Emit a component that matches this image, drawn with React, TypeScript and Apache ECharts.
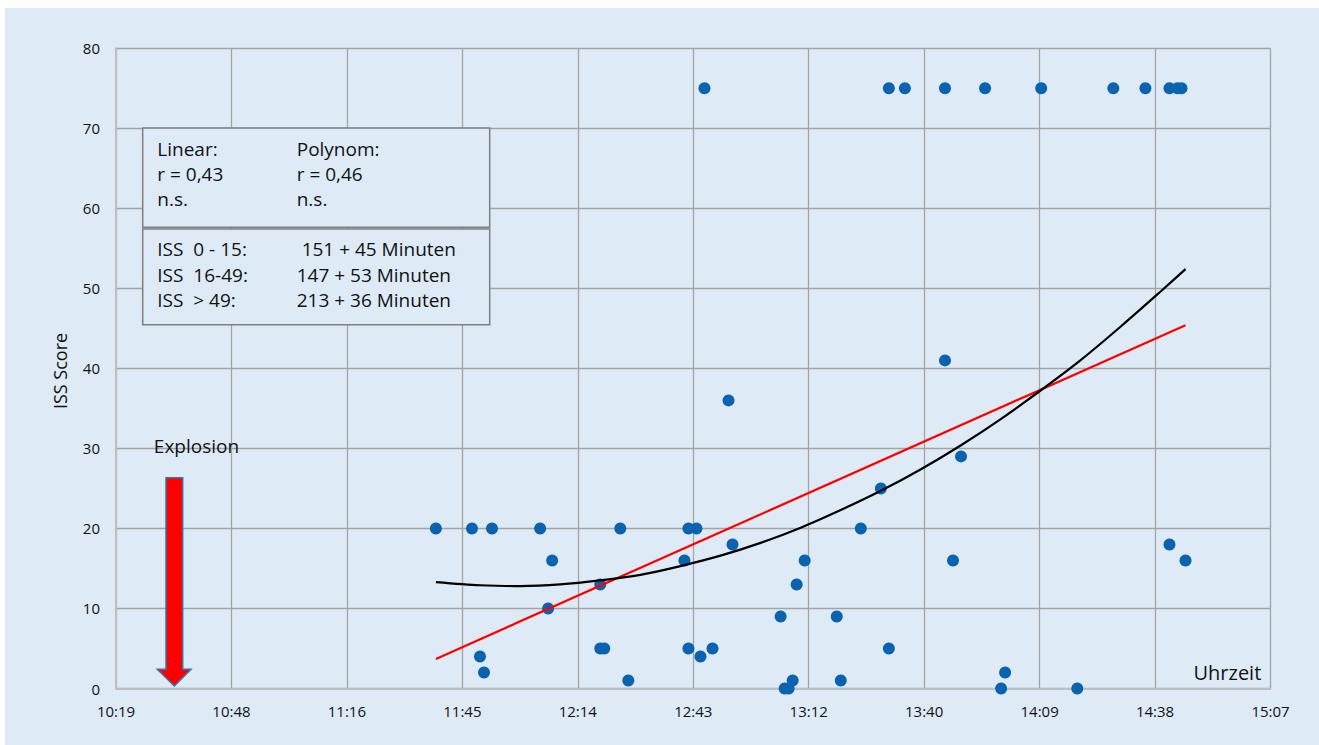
import React, { useEffect, useRef } from "react";
import * as echarts from "echarts";

// ---- Data ----
// Scatter: time of arrival (HH:MM) and ISS score
const scatterTimes: string[] = [
  "11:39", "11:48", "11:50", "11:51", "11:53", "12:05", "12:07", "12:08", "12:20", "12:20",
  "12:21", "12:25", "12:27", "12:41", "12:42", "12:42", "12:44", "12:45", "12:46", "12:48",
  "12:52", "12:53", "13:05", "13:06", "13:07", "13:08", "13:09", "13:11", "13:19", "13:20",
  "13:25", "13:30", "13:32", "13:32", "13:36", "13:46", "13:46", "13:48", "13:50", "13:56",
  "14:00", "14:01", "14:10", "14:19", "14:28", "14:36", "14:42", "14:42", "14:44", "14:45",
  "14:46",
];
const scatterScores: number[] = [
  20, 20, 4, 2, 20, 20, 10, 16, 13, 5,
  5, 20, 1, 16, 20, 5, 20, 4, 75, 5,
  36, 18, 9, 0, 0, 1, 13, 16, 9, 1,
  20, 25, 5, 75, 75, 41, 75, 16, 29, 75,
  0, 2, 75, 0, 75, 75, 75, 18, 75, 75,
  16,
];

// Linear trend line (red), as drawn in the reference
const linearTimes: string[] = ["11:39", "14:46"];
const linearValues: number[] = [3.7, 45.4];

// Polynomial trend line (black)
const polyTimes: string[] = [
  "11:39", "11:50", "12:00", "12:10", "12:20", "12:30", "12:40", "12:50", "13:00", "13:10",
  "13:20", "13:30", "13:40", "13:50", "14:00", "14:10", "14:20", "14:30", "14:40", "14:46",
];
const polyValues: number[] = [
  13.3, 12.9, 12.8, 13.0, 13.5, 14.2, 15.3, 16.6, 18.2, 20.1,
  22.3, 24.7, 27.4, 30.4, 33.7, 37.3, 41.1, 45.3, 49.7, 52.4,
];

// Axis: 10:19 (0.43 d) to 15:07 (0.63 d), step 28.8 min (0.02 d)
const AXIS_START_MIN = 619.2;
const AXIS_SPAN_MIN = 288;
const AXIS_STEP_MIN = 28.8;
const yMin = 0;
const yMax = 80;
const yStep = 10;

const legendLeft: string[] = ["Linear:", "r = 0,43", "n.s."];
const legendRight: string[] = ["Polynom:", "r = 0,46", "n.s."];
const issLeft: string[] = ["ISS  0 - 15:", "ISS  16-49:", "ISS  > 49:"];
const issRight: string[] = [" 151 + 45 Minuten", "147 + 53 Minuten", "213 + 36 Minuten"];

const FONT = '"Open Sans", sans-serif';
const TEXT = "#111111";
const BG = "#deebf7";

function toX(t: string): number {
  const [h, m] = t.split(":").map(Number);
  return h * 60 + m - AXIS_START_MIN;
}

function fmtTime(v: number): string {
  const total = Math.floor(v + AXIS_START_MIN + 1e-6);
  const h = Math.floor(total / 60);
  const m = total % 60;
  return `${h}:${m < 10 ? "0" + m : m}`;
}

export default function App() {
  const ref = useRef<HTMLDivElement>(null);

  useEffect(() => {
    if (!ref.current) return;
    const chart = echarts.init(ref.current, undefined, { renderer: "svg" });

    const textStyle = (text: string, x: number, y: number, size: number, extra: any = {}) => ({
      type: "text",
      x,
      y,
      z: 100,
      ...extra,
      style: {
        text,
        fontSize: size,
        fontFamily: FONT,
        fill: TEXT,
        align: "left",
        verticalAlign: "middle",
        ...(extra.style || {}),
      },
    });

    const graphics: any[] = [
      {
        type: "rect",
        z: 99,
        shape: { x: 137.7, y: 120, width: 347, height: 99.3 },
        style: { fill: BG, stroke: "#7f7f7f", lineWidth: 1.5 },
      },
      {
        type: "rect",
        z: 99,
        shape: { x: 137.7, y: 221, width: 347, height: 95.7 },
        style: { fill: BG, stroke: "#7f7f7f", lineWidth: 1.5 },
      },
    ];
    legendLeft.forEach((t, i) => graphics.push(textStyle(t, 152.3, 141.3 + i * 25, 19)));
    legendRight.forEach((t, i) => graphics.push(textStyle(t, 291.7, 141.3 + i * 25, 19)));
    issLeft.forEach((t, i) => graphics.push(textStyle(t, 152.3, 241.3 + i * 25.3, 19)));
    issRight.forEach((t, i) => graphics.push(textStyle(t, 291.7, 241.3 + i * 25.3, 19)));
    graphics.push(textStyle("Explosion", 191.5, 438, 19, { style: { align: "center" } }));
    graphics.push(textStyle("Uhrzeit", 1256.3, 664.5, 20, { style: { align: "right" } }));
    graphics.push(
      textStyle("ISS Score", 55, 363, 18, { rotation: Math.PI / 2, style: { align: "center" } })
    );
    graphics.push({
      type: "polygon",
      z: 100,
      shape: {
        points: [
          [161, 469.7],
          [177.7, 469.7],
          [177.7, 661.3],
          [186, 661.3],
          [169.3, 678],
          [152.3, 661.3],
          [161, 661.3],
        ],
      },
      style: { fill: "#ff0000", stroke: "#2e75b6", lineWidth: 1.5 },
    });

    const axisLine = { show: true, lineStyle: { color: "#bfbfbf", width: 2 } };
    const splitLine = { show: true, lineStyle: { color: "#a3a3a3", width: 1.3 } };
    const labelBase = { color: TEXT, fontSize: 15, fontFamily: FONT };

    chart.setOption({
      animation: false,
      backgroundColor: BG,
      grid: { left: 111, right: 48.5, top: 40.3, bottom: 56.5, containLabel: false },
      xAxis: {
        type: "value",
        min: 0,
        max: AXIS_SPAN_MIN,
        interval: AXIS_STEP_MIN,
        axisLine,
        axisTick: { show: false },
        splitLine,
        axisLabel: {
          ...labelBase,
          margin: 15,
          showMinLabel: true,
          showMaxLabel: true,
          formatter: (v: number) => fmtTime(v),
        },
      },
      yAxis: {
        type: "value",
        min: yMin,
        max: yMax,
        interval: yStep,
        axisLine,
        axisTick: { show: false },
        splitLine,
        axisLabel: { ...labelBase, margin: 16 },
      },
      series: [
        {
          type: "scatter",
          symbol: "circle",
          symbolSize: 12,
          itemStyle: { color: "#0a63ae", opacity: 1 },
          data: scatterTimes.map((t, i) => [toX(t), scatterScores[i]]),
          z: 3,
        },
        {
          type: "line",
          showSymbol: false,
          lineStyle: { color: "#ff0000", width: 2.2 },
          data: linearTimes.map((t, i) => [toX(t), linearValues[i]]),
          z: 4,
        },
        {
          type: "line",
          showSymbol: false,
          smooth: 0.3,
          lineStyle: { color: "#000000", width: 2.2 },
          data: polyTimes.map((t, i) => [toX(t), polyValues[i]]),
          z: 5,
        },
      ],
      graphic: graphics,
    });

    return () => chart.dispose();
  }, []);

  return (
    <div
      ref={ref}
      style={{ position: "fixed", left: 5, top: 8, width: 1314, height: 737 }}
    />
  );
}
